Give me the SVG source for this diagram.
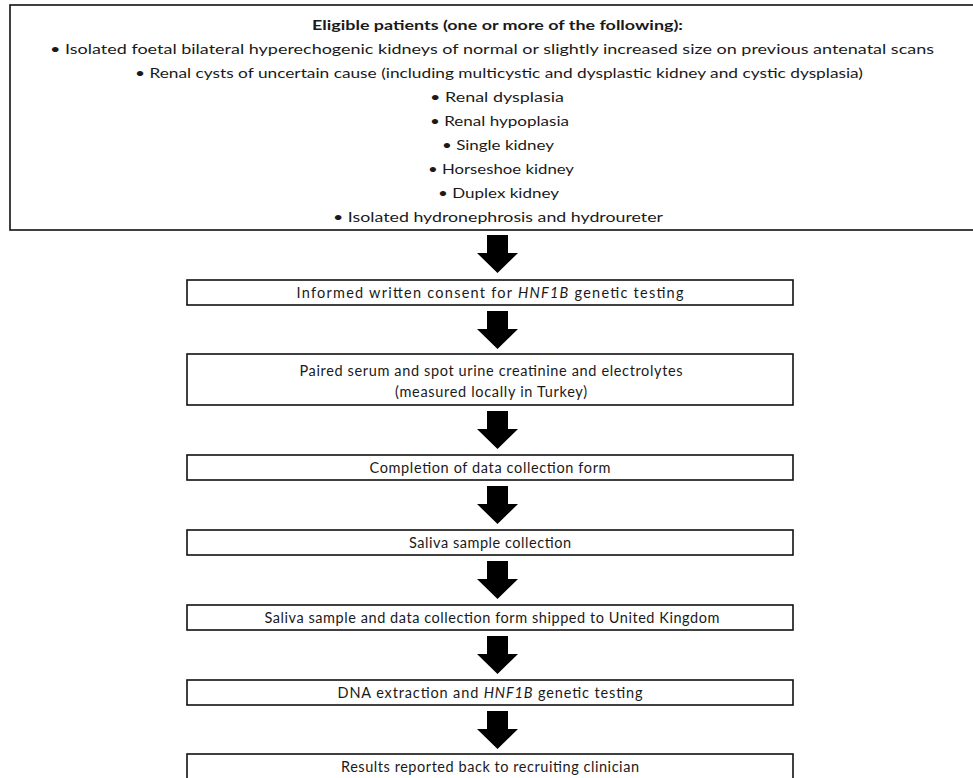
<svg xmlns="http://www.w3.org/2000/svg" width="973" height="778" viewBox="0 0 973 778">
<style>
.box{fill:#fff;stroke:#111;stroke-width:1.6}
.t{font-family:Lato,"Open Sans","Liberation Sans",sans-serif;font-size:13px;fill:#1a1a1a;text-anchor:middle}
.f{font-family:Lato,"Open Sans","Liberation Sans",sans-serif;font-size:14.5px;fill:#1a1a1a;text-anchor:middle}
.b{font-weight:bold}
.i{font-style:italic}
.arr{fill:#000}
</style>
<rect width="973" height="778" fill="#fff"/>
<g id="eligible">
<rect class="box" x="10" y="5" width="990" height="225"/>
<text class="t b" x="497.5" y="30" textLength="371" lengthAdjust="spacingAndGlyphs">Eligible patients (one or more of the following):</text>
<text class="t" x="492" y="54" textLength="884" lengthAdjust="spacingAndGlyphs">• Isolated foetal bilateral hyperechogenic kidneys of normal or slightly increased size on previous antenatal scans</text>
<text class="t" x="499" y="78" textLength="728" lengthAdjust="spacingAndGlyphs">• Renal cysts of uncertain cause (including multicystic and dysplastic kidney and cystic dysplasia)</text>
<text class="t" x="497" y="102" textLength="134" lengthAdjust="spacingAndGlyphs">• Renal dysplasia</text>
<text class="t" x="499.5" y="126" textLength="139" lengthAdjust="spacingAndGlyphs">• Renal hypoplasia</text>
<text class="t" x="498" y="150" textLength="112" lengthAdjust="spacingAndGlyphs">• Single kidney</text>
<text class="t" x="501" y="174" textLength="146" lengthAdjust="spacingAndGlyphs">• Horseshoe kidney</text>
<text class="t" x="498.5" y="198" textLength="121" lengthAdjust="spacingAndGlyphs">• Duplex kidney</text>
<text class="t" x="498" y="222" textLength="330" lengthAdjust="spacingAndGlyphs">• Isolated hydronephrosis and hydroureter</text>
</g>
<g id="consent">
<rect class="box" x="187" y="280" width="606" height="25"/>
<text class="f" x="490" y="297.5" textLength="387" lengthAdjust="spacing">Informed written consent for <tspan class="i">HNF1B</tspan>  genetic testing</text>
</g>
<g id="labs">
<rect class="box" x="187" y="354" width="606" height="51"/>
<text class="f" x="491" y="375.5" textLength="383" lengthAdjust="spacing">Paired serum and spot urine creatinine and electrolytes</text>
<text class="f" x="491" y="396.5" textLength="192" lengthAdjust="spacing">(measured locally in Turkey)</text>
</g>
<g id="form">
<rect class="box" x="187" y="455" width="606" height="25"/>
<text class="f" x="490" y="472.5" textLength="241" lengthAdjust="spacing">Completion of data collection form</text>
</g>
<g id="saliva">
<rect class="box" x="187" y="530" width="606" height="25"/>
<text class="f" x="490" y="547.5" textLength="162" lengthAdjust="spacing">Saliva sample collection</text>
</g>
<g id="shipped">
<rect class="box" x="187" y="605" width="606" height="25"/>
<text class="f" x="492" y="622.5" textLength="455" lengthAdjust="spacing">Saliva sample and data collection form shipped to United Kingdom</text>
</g>
<g id="dna">
<rect class="box" x="187" y="680" width="606" height="25"/>
<text class="f" x="490" y="697.5" textLength="305" lengthAdjust="spacing">DNA extraction and <tspan class="i">HNF1B</tspan>  genetic testing</text>
</g>
<g id="results">
<rect class="box" x="187" y="754" width="606" height="40"/>
<text class="f" x="490" y="771.5" textLength="298" lengthAdjust="spacing">Results reported back to recruiting clinician</text>
</g>
<g id="connectors">
<polygon class="arr" points="487,235 508,235 508,253 518,253 497.5,273 477,253 487,253"/>
<polygon class="arr" points="487,311 508,311 508,329 518,329 497.5,349 477,329 487,329"/>
<polygon class="arr" points="487,411 508,411 508,429 518,429 497.5,449 477,429 487,429"/>
<polygon class="arr" points="487,486 508,486 508,504 518,504 497.5,524 477,504 487,504"/>
<polygon class="arr" points="487,561 508,561 508,579 518,579 497.5,599 477,579 487,579"/>
<polygon class="arr" points="487,636 508,636 508,654 518,654 497.5,674 477,654 487,654"/>
<polygon class="arr" points="487,711 508,711 508,729 518,729 497.5,749 477,729 487,729"/>
</g>
</svg>
